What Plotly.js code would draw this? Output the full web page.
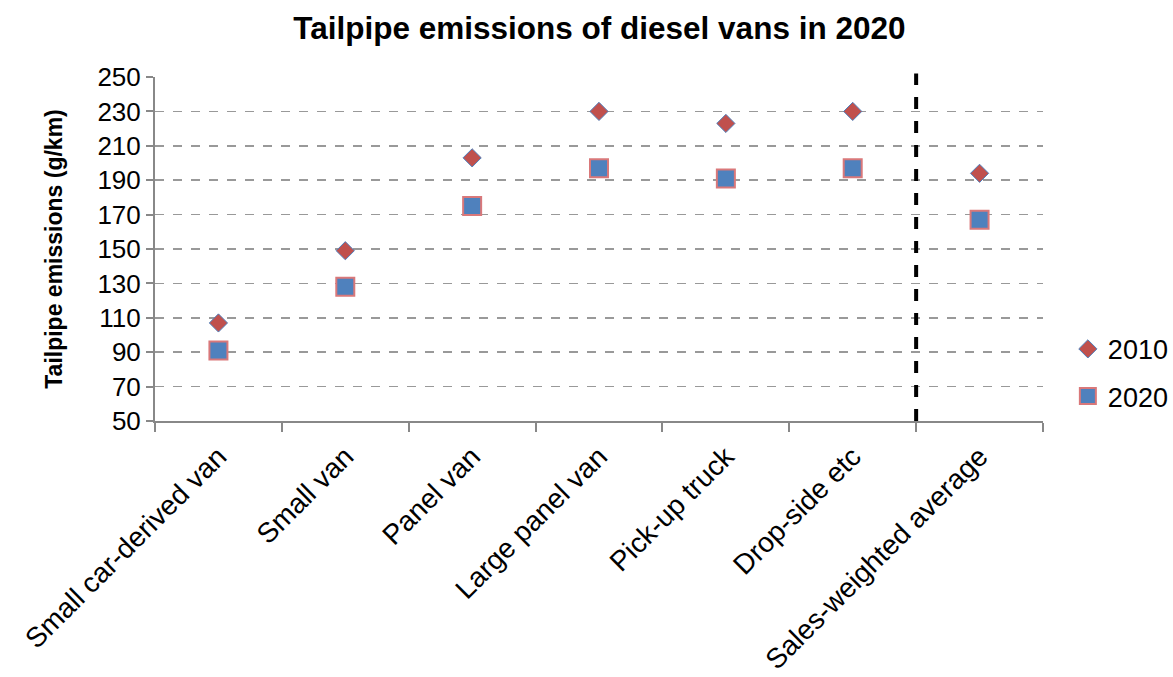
<!DOCTYPE html>
<html>
<head>
<meta charset="utf-8">
<script src="https://cdn.plot.ly/plotly-3.0.1.min.js"></script>
<style>html,body{margin:0;padding:0;background:#fff;}#chart{width:1173px;height:677px;}</style>
</head>
<body>
<div id="chart"></div>
<script>
const categories = ["Small car-derived van", "Small van", "Panel van", "Large panel van", "Pick-up truck", "Drop-side etc", "Sales-weighted average"];
const values2010 = [107, 149, 203, 230, 223, 230, 194];
const values2020 = [91, 128, 175, 197, 191, 197, 167];
const yTicks = [50, 70, 90, 110, 130, 150, 170, 190, 210, 230, 250];

const font = "Liberation Sans, Arial, sans-serif";

const traces = [
  {
    type: "scatter", mode: "markers", name: "2010", legendgroup: "a",
    x: categories, y: values2010,
    marker: {symbol: "diamond", size: 14, color: "#C0504D", line: {color: "#4F81BD", width: 1}}
  },
  {
    type: "scatter", mode: "markers", name: "2020", legendgroup: "b",
    x: categories, y: values2020,
    marker: {symbol: "square", size: 18, color: "#4F81BD", line: {color: "#D9787A", width: 2}}
  }
];

const layout = {
  width: 1173, height: 677,
  margin: {l: 155, r: 130, t: 77, b: 256, autoexpand: false},
  paper_bgcolor: "#fff", plot_bgcolor: "#fff",
  font: {family: font, size: 26, color: "#000"},
  title: {text: "<b>Tailpipe emissions of diesel vans in 2020</b>", x: 0.511, xanchor: "center", y: 0.958, yanchor: "middle", font: {family: font, size: 31.5, color: "#000"}},
  showlegend: true,
  legend: {x: 1.028, xanchor: "left", y: 0.14, yanchor: "middle", font: {family: font, size: 27, color: "#000"}, itemwidth: 30, tracegroupgap: 9, bgcolor: "rgba(0,0,0,0)"},
  xaxis: {
    type: "category", range: [-0.5, 6.5],
    tickangle: -45, ticks: "outside", tickson: "boundaries", ticklen: 9, tickwidth: 2, tickcolor: "#888",
    showline: true, linecolor: "#888", linewidth: 2, showgrid: false,
    ticklabelstandoff: 6,
    tickfont: {family: font, size: 28, color: "#000"}
  },
  yaxis: {
    range: [50, 250], tickvals: yTicks, ticktext: yTicks.map(String),
    ticks: "outside", ticklen: 7, tickwidth: 2, tickcolor: "#888",
    showline: true, linecolor: "#888", linewidth: 2,
    showgrid: true, gridcolor: "#999", gridwidth: 1.5, griddash: "dash",
    zeroline: false,
    tickfont: {family: font, size: 26, color: "#000"},
    title: {text: "<b>Tailpipe emissions (g/km)</b>", font: {family: font, size: 23, color: "#000"}, standoff: 28}
  },
  shapes: [
    {type: "line", xref: "x", yref: "paper", x0: 5.5, x1: 5.5, y0: 0, y1: 1.01, line: {color: "#000", width: 4, dash: "dash"}}
  ]
};

Plotly.newPlot("chart", traces, layout, {displayModeBar: false, staticPlot: true});
</script>
</body>
</html>
